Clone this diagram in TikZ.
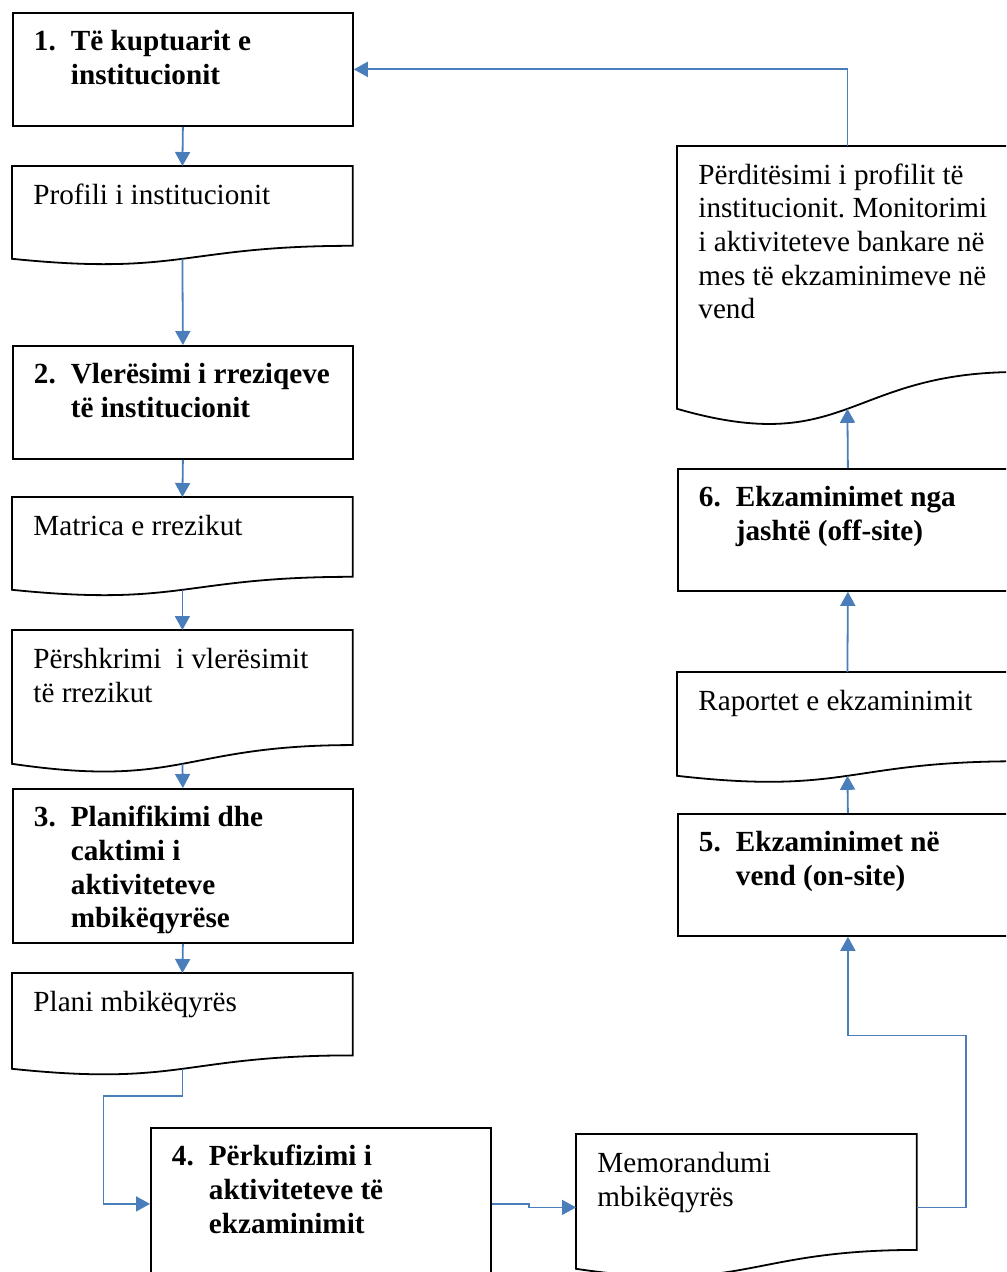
\documentclass[tikz,border=0pt]{standalone}
\usepackage{fontspec}
\setmainfont{Liberation Serif}
\usetikzlibrary{arrows.meta,calc}
\definecolor{FlowBlue}{RGB}{74,126,187}
\newcommand{\stepitem}[2]{\textbf{\makebox[18.5pt][l]{#1}\parbox[t]{140pt}{#2}}}
\tikzset{
  boxbase/.style={anchor=north west, inner sep=0pt, text width=170pt, align=left,
    text height=19pt, text depth={#1*0.5pt-19pt},
    font=\fontsize{14.6}{16.8}\selectfont,
    execute at begin node={\leftskip=10.5pt\spaceskip=0pt\xspaceskip=0pt\frenchspacing}},
  stepbox/.style={boxbase=#1, draw, line width=0.9pt},
  docbox/.style={boxbase=#1, append after command={\pgfextra{\let\docnode\tikzlastnode
      \draw[line width=0.9pt] (\docnode.north west) -- (\docnode.north east)
        -- ($(\docnode.north east)!0.86!(\docnode.south east)$)
        .. controls ($(\docnode.north)!0.86!(\docnode.south)$) and ($(\docnode.north)!1.187!(\docnode.south)$)
        .. (\docnode.south west) -- cycle;}}},
  flow/.style={draw=FlowBlue, line width=0.9pt, -{Triangle[length=7pt,width=7.5pt]}}
}
\begin{document}
\begin{tikzpicture}[x=0.5pt, y=-0.5pt]
  \useasboundingbox (0,0) rectangle (1006,1272);
  \clip (0,0) rectangle (1006,1272);

  % numbered steps
  \foreach \n/\x/\y/\h/\t in {
    kuptuarit/12/12/113/{\stepitem{1.}{Të kuptuarit e\\institucionit}},
    vleresimi/12/345/113/{\stepitem{2.}{Vlerësimi i rreziqeve\\të institucionit}},
    planifikimi/12/788/154/{\stepitem{3.}{Planifikimi dhe\\caktimi i\\aktiviteteve\\mbikëqyrëse}},
    perkufizimi/150/1127/152/{\stepitem{4.}{Përkufizimi i\\aktiviteteve të\\ekzaminimit}},
    onsite/677/813/122/{\stepitem{5.}{Ekzaminimet në\\vend (on-site)}},
    offsite/677/468/122/{\stepitem{6.}{Ekzaminimet nga\\jashtë (off-site)}}
  } {
    \node[stepbox=\h] (\n) at (\x,\y) {\t};
  }

  % documents
  \foreach \n/\x/\y/\h/\t in {
    profili/12/166/92/{Profili i institucionit},
    matrica/12/497/92/{Matrica e rrezikut},
    pershkrimi/12/630/133/{Përshkrimi~ i vlerësimit\\të rrezikut},
    plani/12/973/95/{Plani mbikëqyrës},
    memorandumi/576/1134/134/{Memorandumi\\mbikëqyrës},
    raportet/677/672/103/{Raportet e ekzaminimit},
    perditesimi/677/146/262/{Përditësimi i profilit të\\institucionit. Monitorimi\\i aktiviteteve bankare në\\mes të ekzaminimeve në\\vend}
  } {
    \node[docbox=\h] (\n) at (\x,\y) {\t};
  }

  % connectors
  \foreach \a/\b in {kuptuarit/profili, profili/vleresimi, vleresimi/matrica,
                     matrica/pershkrimi, pershkrimi/planifikimi, planifikimi/plani} {
    \draw[flow] (\a.south) -- (\b.north);
  }
  \foreach \a/\b in {onsite/raportet, raportet/offsite, offsite/perditesimi} {
    \draw[flow] (\a.north) -- (\b.south);
  }
  \draw[flow] (plani.south) -- ++(0,27) -- ++(-79,0) |- (perkufizimi.west);
  \draw[flow] (perkufizimi.east) -- ++(37,0) |- ([yshift=-3pt]memorandumi.west);
  \draw[flow] ([yshift=-3pt]memorandumi.east) -| ++(49,-172) -| (onsite.south);
  \draw[flow] (perditesimi.north) |- (kuptuarit.east);
\end{tikzpicture}
\end{document}
